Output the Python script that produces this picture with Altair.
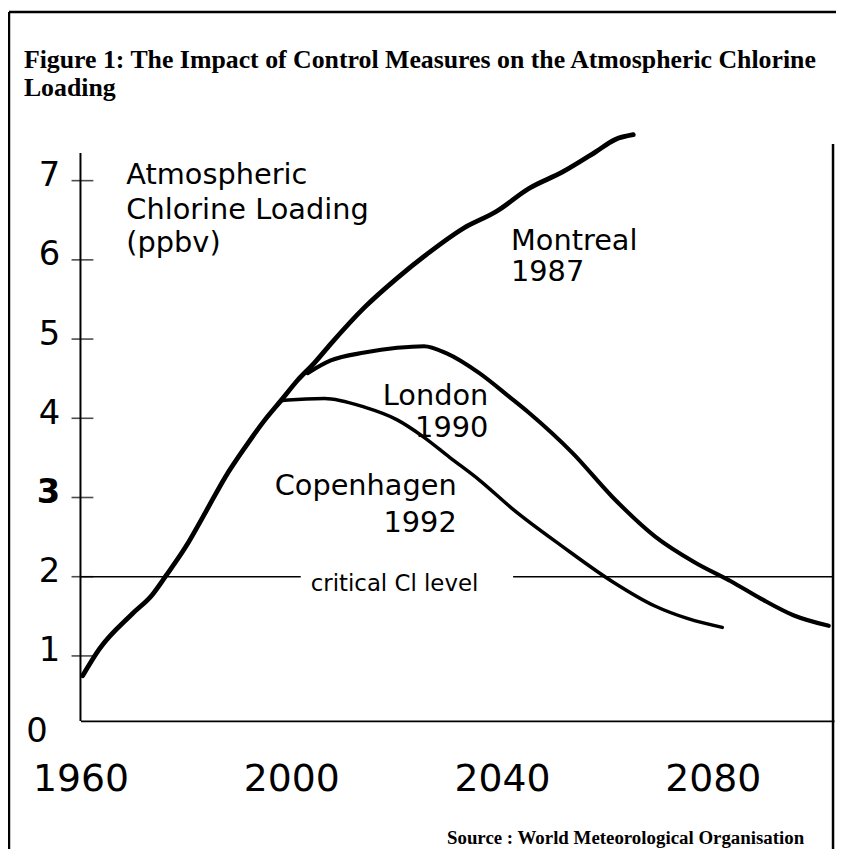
import altair as alt
import pandas as pd

# ---- data ----
montreal_years = [1960.4, 1963.6, 1969.8, 1973.6, 1976.2, 1980.0, 1983.7, 1987.5, 1991.3, 1995.0,
                  1998.0, 2001.2, 2004.4, 2007.5, 2013.9, 2020.1, 2025.7, 2032.7, 2038.9, 2045.1,
                  2051.5, 2057.7, 2061.5, 2064.9]
montreal_vals = [0.75, 1.09, 1.53, 1.77, 2.01, 2.38, 2.81, 3.26, 3.64, 3.98,
                 4.22, 4.48, 4.70, 4.94, 5.40, 5.77, 6.07, 6.40, 6.61, 6.90,
                 7.11, 7.36, 7.52, 7.58]

london_years = [2003.1, 2007.5, 2013.9, 2020.1, 2025.2, 2029.5, 2035.7, 2041.4, 2045.1, 2053.4,
                2060.9, 2069.0, 2076.6, 2083.5, 2089.2, 2095.4, 2102.0]
london_vals = [4.57, 4.73, 4.83, 4.89, 4.91, 4.82, 4.57, 4.27, 4.07, 3.56,
               3.01, 2.51, 2.18, 1.94, 1.72, 1.51, 1.38]

copen_years = [1998.0, 1999.4, 2006.3, 2013.9, 2020.1, 2025.2, 2030.0, 2035.7, 2042.1, 2051.5,
               2060.9, 2069.0, 2075.3, 2081.8]
copen_vals = [4.22, 4.23, 4.25, 4.14, 3.98, 3.76, 3.51, 3.22, 2.85, 2.38,
              1.94, 1.63, 1.47, 1.36]

series_names = ["Montreal 1987", "London 1990", "Copenhagen 1992"]

x_ticks = [1960, 2000, 2040, 2080]
y_ticks = [1, 2, 3, 4, 5, 6, 7]
y_min, y_max = 0.18, 7.7
x_min, x_max = 1960, 2103
y_axis_top = 7.35

critical_level = 2
critical_start = [1960, 2042.1]
critical_end = [2001.8, 2103]

left_labels = ["Atmospheric", "Chlorine Loading", "(ppbv)", "Montreal", "1987"]
left_years = [1968.7, 1968.7, 1968.7, 2041.7, 2041.7]
left_vals = [6.96, 6.52, 6.10, 6.13, 5.73]

right_labels = ["London", "1990", "Copenhagen", "1992"]
right_years = [2037.4, 2037.4, 2031.4, 2031.4]
right_vals = [4.17, 3.77, 3.03, 2.57]

crit_label = ["critical Cl level"]
crit_year = [2003.7]
crit_val = [1.82]

title_lines = ["Figure 1: The Impact of Control Measures on the Atmospheric Chlorine", "Loading"]
source_text = "Source : World Meteorological Organisation"

# ---- tables ----
rows = []
for name, ys_, vs in zip(series_names,
                         [montreal_years, london_years, copen_years],
                         [montreal_vals, london_vals, copen_vals]):
    for yr, v in zip(ys_, vs):
        rows.append({"series": name, "year": yr, "value": v})
lines_df = pd.DataFrame(rows)

SANS = "DejaVu Sans"
SERIF = "Liberation Serif"

xs = alt.Scale(domain=[x_min, x_max], nice=False, zero=False)
ys = alt.Scale(domain=[y_min, y_max], nice=False, zero=False)

x_axis = alt.Axis(values=x_ticks, format="d", labelFont=SANS, labelFontSize=38,
                  labelColor="black", ticks=False, labelPadding=40, domain=True,
                  domainColor="black", domainWidth=2, grid=False, title=None,
                  labelFlush=False, labelOverlap=False)
y_axis = alt.Axis(values=y_ticks, format="d", labelFont=SANS, labelFontSize=34, labelColor="black",
                  ticks=False, labelPadding=21, labelOffset=-5, domain=False, grid=False,
                  title=None, labelFlush=False, labelOverlap=False,
                  labelFontWeight={"condition": {"test": "datum.value == 3", "value": "bold"},
                                   "value": "normal"})

lines = alt.Chart(lines_df).mark_line(color="black", interpolate="monotone",
                                      strokeCap="round", strokeJoin="round").encode(
    x=alt.X("year:Q", scale=xs, axis=x_axis),
    y=alt.Y("value:Q", scale=ys, axis=y_axis),
    detail="series:N",
    strokeWidth=alt.StrokeWidth("series:N", scale=alt.Scale(domain=series_names, range=[4.8, 3.5, 3.5]),
                                legend=None),
)

yaxis_df = pd.DataFrame({"year": [x_min], "lo": [y_min], "hi": [y_axis_top]})
yaxis_line = alt.Chart(yaxis_df).mark_rule(color="black", strokeWidth=2).encode(
    x="year:Q", y="lo:Q", y2="hi:Q")

ticks_df = pd.DataFrame({"year": [x_min] * len(y_ticks), "value": y_ticks})
yticks = alt.Chart(ticks_df).mark_tick(color="black", orient="horizontal", size=22,
                                       thickness=1.6, xOffset=2).encode(
    x="year:Q", y="value:Q")

zero_df = pd.DataFrame({"year": [x_min], "value": [y_min], "t": ["0"]})
zero_lbl = alt.Chart(zero_df).mark_text(font=SANS, fontSize=34, align="right", baseline="middle",
                                        dx=-33, dy=11, color="black").encode(
    x="year:Q", y="value:Q", text="t:N")

crit_df = pd.DataFrame({"x1": critical_start, "x2": critical_end, "v": [critical_level] * 2})
crit = alt.Chart(crit_df).mark_rule(color="black", strokeWidth=1.6).encode(
    x="x1:Q", x2="x2:Q", y="v:Q")

ldf = pd.DataFrame({"t": left_labels, "year": left_years, "value": left_vals})
ltext = alt.Chart(ldf).mark_text(font=SANS, fontSize=29, align="left", baseline="alphabetic",
                                 color="black").encode(x="year:Q", y="value:Q", text="t:N")
rdf = pd.DataFrame({"t": right_labels, "year": right_years, "value": right_vals})
rtext = alt.Chart(rdf).mark_text(font=SANS, fontSize=29, align="right", baseline="alphabetic",
                                 color="black").encode(x="year:Q", y="value:Q", text="t:N")
cdf = pd.DataFrame({"t": crit_label, "year": crit_year, "value": crit_val})
ctext = alt.Chart(cdf).mark_text(font=SANS, fontSize=23, align="left", baseline="alphabetic",
                                 color="black").encode(x="year:Q", y="value:Q", text="t:N")

one = pd.DataFrame({"a": [0]})
title = alt.Chart(one).mark_text(font=SERIF, fontSize=26, fontWeight="bold", align="left",
                                 baseline="alphabetic", lineHeight=29, color="black").encode(
    x=alt.value(-57), y=alt.value(-58), text=alt.value(title_lines))
source = alt.Chart(one).mark_text(font=SERIF, fontSize=19, fontWeight="bold", align="right",
                                  baseline="alphabetic", color="black").encode(
    x=alt.value(729), y=alt.value(724), text=alt.value(source_text))

frame_left = alt.Chart(one).mark_rule(color="black", strokeWidth=2.5).encode(
    x=alt.value(-72), y=alt.value(-114), y2=alt.value(730))
frame_top = alt.Chart(one).mark_rule(color="black", strokeWidth=2.5).encode(
    x=alt.value(-72), x2=alt.value(762), y=alt.value(-114))
frame_right = alt.Chart(one).mark_rule(color="black", strokeWidth=2.5).encode(
    x=alt.value(758), y=alt.value(19), y2=alt.value(730))

chart = alt.layer(
    crit, yaxis_line, yticks, lines, zero_lbl, ltext, rtext, ctext,
    title, source, frame_left, frame_top, frame_right,
).properties(
    width=759, height=600,
    padding={"left": 73, "top": 115, "right": 2, "bottom": 126},
    autosize=alt.AutoSizeParams(type="none"),
    background="white",
).configure_view(stroke=None)

chart.save("out.html", embed_options={"renderer": "svg", "actions": False})
